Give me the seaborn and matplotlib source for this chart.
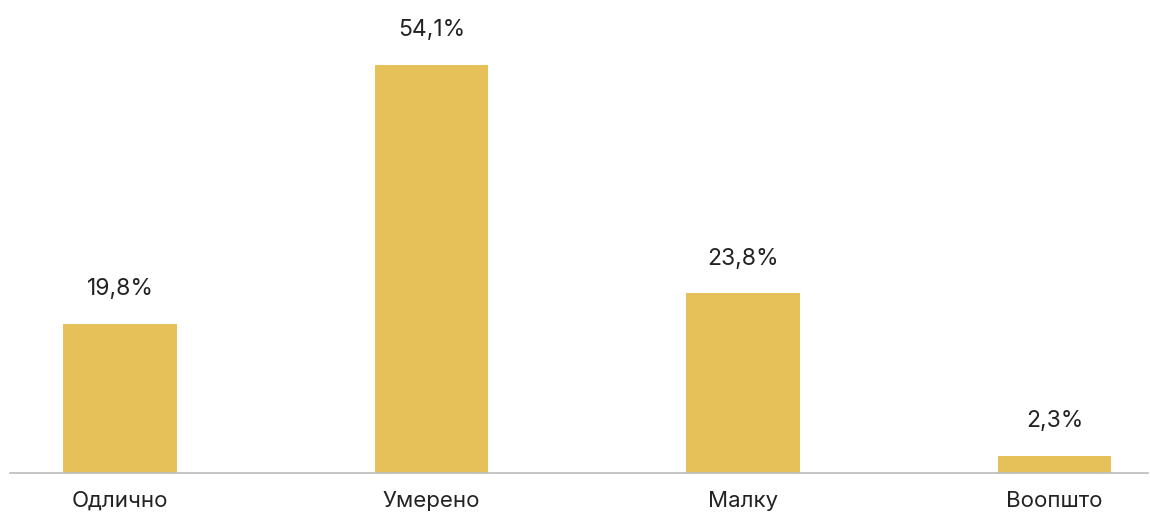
import matplotlib
matplotlib.use("Agg")
import matplotlib.pyplot as plt
import seaborn as sns
import pandas as pd

# податоци
categories = ["Одлично", "Умерено", "Малку", "Воопшто"]
values = [19.8, 54.1, 23.8, 2.3]
value_labels = ["19,8%", "54,1%", "23,8%", "2,3%"]

df = pd.DataFrame({"category": categories, "value": values})

sns.set_style("white")
plt.rcParams["font.family"] = ["Inter", "DejaVu Sans"]

fig = plt.figure(figsize=(11.5, 5.13), dpi=100)
ax = fig.add_axes([10 / 1150, 40 / 513, 1138 / 1150, 473 / 513])

sns.barplot(data=df, x="category", y="value", color="#E6C15A", saturation=1,
            width=0.365, linewidth=0, ax=ax)

# етикети над столбовите
for i, (v, lab) in enumerate(zip(values, value_labels)):
    ax.text(i, v + 3.8, lab, ha="center", va="baseline", fontsize=16.5, color="#222222")

ax.set_xlim(-0.353, 3.3)
ax.set_ylim(0, 62.7)
ax.set_xlabel("")
ax.set_ylabel("")
ax.set_yticks([])
ax.tick_params(axis="x", length=0, labelsize=16, colors="#222222", pad=13)
for s in ["top", "right", "left"]:
    ax.spines[s].set_visible(False)
ax.spines["bottom"].set_color("#BBBBBB")
ax.spines["bottom"].set_linewidth(1.2)

fig.savefig("out.png", dpi=100)
